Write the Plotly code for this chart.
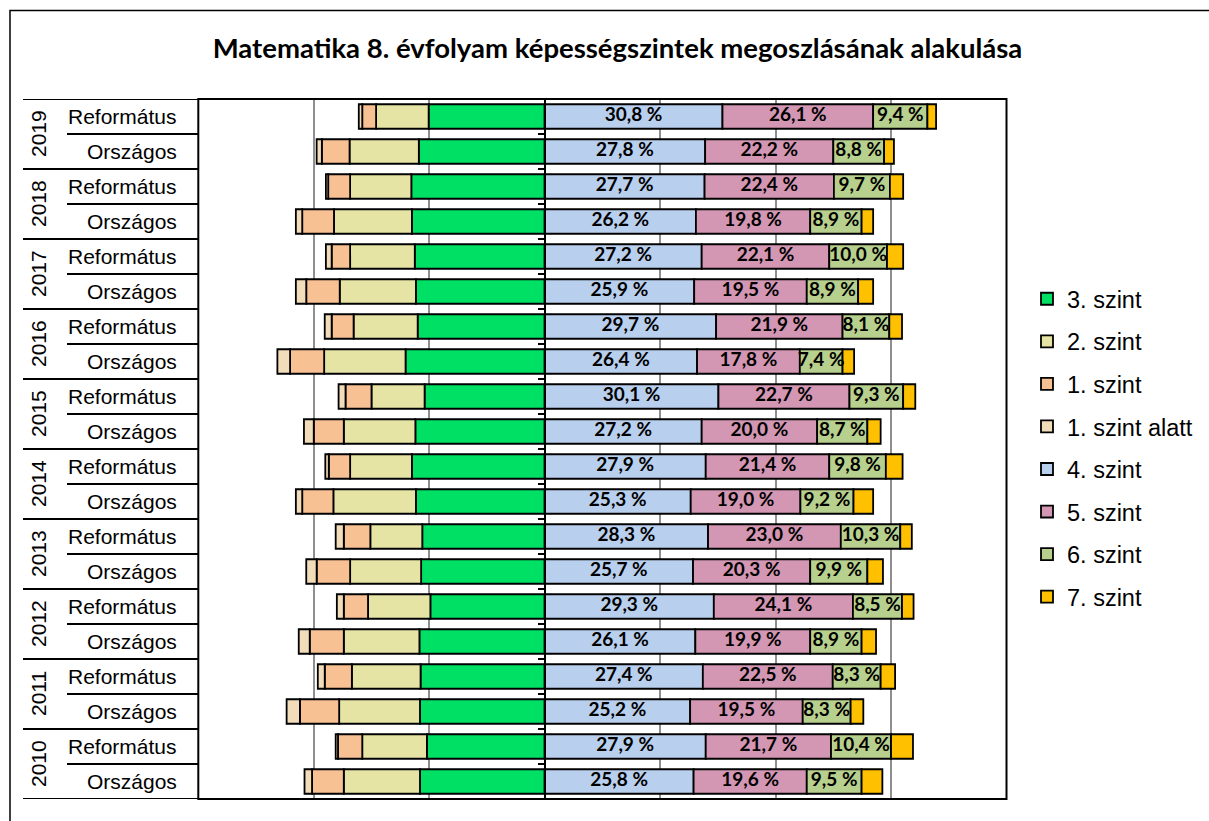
"""Matematika 8. évfolyam képességszintek – diverging stacked bar chart."""
import numpy as np
import plotly.graph_objects as go

W, H = 1209, 821

YEARS = ["2019", "2018", "2017", "2016", "2015", "2014", "2013", "2012", "2011", "2010"]
GROUPS = ["Református", "Országos"]

# shares (%) per row, top to bottom: 2019 Ref, 2019 Orsz, 2018 Ref, ...
SZINT_3 = [20.1, 21.8, 23.1, 23.0, 22.5, 22.3, 22.0, 24.1, 20.8, 22.4,
           23.0, 22.3, 21.2, 21.4, 19.8, 21.7, 21.5, 21.6, 20.4, 21.6]
SZINT_2 = [9.1, 12.0, 10.6, 13.5, 11.2, 13.2, 11.1, 14.1, 9.2, 12.4,
           10.7, 14.3, 9.0, 12.3, 10.8, 13.1, 11.9, 14.0, 11.2, 13.2]
SZINT_1 = [2.4, 4.8, 3.8, 5.5, 3.2, 5.8, 3.8, 5.9, 4.5, 5.2,
           3.7, 5.4, 4.6, 5.8, 4.2, 5.9, 4.7, 6.8, 4.2, 5.5]
SZINT_1_ALATT = [0.6, 0.9, 0.4, 1.1, 1.0, 1.8, 1.2, 2.2, 1.2, 1.7,
                 0.6, 1.1, 1.4, 1.8, 1.2, 1.9, 1.2, 2.3, 0.4, 1.3]
SZINT_4 = [30.8, 27.8, 27.7, 26.2, 27.2, 25.9, 29.7, 26.4, 30.1, 27.2,
           27.9, 25.3, 28.3, 25.7, 29.3, 26.1, 27.4, 25.2, 27.9, 25.8]
SZINT_5 = [26.1, 22.2, 22.4, 19.8, 22.1, 19.5, 21.9, 17.8, 22.7, 20.0,
           21.4, 19.0, 23.0, 20.3, 24.1, 19.9, 22.5, 19.5, 21.7, 19.6]
SZINT_6 = [9.4, 8.8, 9.7, 8.9, 10.0, 8.9, 8.1, 7.4, 9.3, 8.7,
           9.8, 9.2, 10.3, 9.9, 8.5, 8.9, 8.3, 8.3, 10.4, 9.5]
SZINT_7 = [1.5, 1.7, 2.3, 2.0, 2.8, 2.6, 2.2, 2.0, 2.1, 2.3,
           2.9, 3.4, 2.0, 2.7, 2.0, 2.5, 2.5, 2.2, 3.8, 3.6]

LEFT_LEVELS = [
    ("3. szint", SZINT_3, "#00E064"),
    ("2. szint", SZINT_2, "#E6E4A4"),
    ("1. szint", SZINT_1, "#F8C193"),
    ("1. szint alatt", SZINT_1_ALATT, "#F2DDBB"),
]
RIGHT_LEVELS = [
    ("4. szint", SZINT_4, "#B9CFEE"),
    ("5. szint", SZINT_5, "#D396B3"),
    ("6. szint", SZINT_6, "#B8D08D"),
    ("7. szint", SZINT_7, "#FFC000"),
]

ARIAL = "Liberation Sans, Arial, sans-serif"
CALIBRI = "Lato, Carlito, Calibri, sans-serif"


def px(x):
    return x / W


def py(y):
    return 1 - y / H


def fmt(v):
    return f"{v:.1f} %".replace(".", ",")


rows = [f"{y} {g}" for y in YEARS for g in GROUPS]
x_dom = [px(198.3), px(1006.5)]
y_dom = [py(799), py(99)]
x_range = [-60, 80]

fig = go.Figure()

for side, levels in ((-1, LEFT_LEVELS), (1, RIGHT_LEVELS)):
    for name, vals, col in levels:
        fig.add_trace(go.Bar(
            y=rows,
            x=[side * v for v in vals],
            orientation="h",
            name=name,
            legendgroup=name,
            marker=dict(color=col, line=dict(color="black", width=1.8)),
            hoverinfo="skip",
        ))

# data labels for 4.-6. szint, centred in each segment
start = np.zeros(len(rows))
for name, vals, col in RIGHT_LEVELS[:3]:
    vals = np.array(vals)
    fig.add_trace(go.Scatter(
        x=start + vals / 2,
        y=rows,
        mode="text",
        text=[fmt(v) for v in vals],
        textfont=dict(family=CALIBRI, size=19, color="black", weight=700),
        showlegend=False,
        cliponaxis=False,
        hoverinfo="skip",
    ))
    start = start + vals

shapes = [
    # outer chart frame
    dict(type="rect", xref="paper", yref="paper", x0=px(10), x1=1.05,
         y0=-0.05, y1=py(10.5), line=dict(color="black", width=1.5)),
    # plot area border
    dict(type="rect", xref="x domain", yref="y domain", x0=0, x1=1,
         y0=0, y1=1, line=dict(color="black", width=2)),
]
for k in range(len(YEARS) + 1):
    shapes.append(dict(type="line", xref="paper", yref="y",
                       x0=px(23), x1=px(198.3), y0=2 * k - 0.5, y1=2 * k - 0.5,
                       line=dict(color="black", width=2)))
for k in range(len(YEARS)):
    shapes.append(dict(type="line", xref="paper", yref="y",
                       x0=px(67), x1=px(198.3), y0=2 * k + 0.5, y1=2 * k + 0.5,
                       line=dict(color="black", width=2)))

annotations = []
for r in rows:
    annotations.append(dict(
        x=px(179), y=r, xref="paper", yref="y", xanchor="right",
        text=r.split(" ", 1)[1], showarrow=False,
        font=dict(family=ARIAL, size=21, color="black"),
    ))
for k, yr in enumerate(YEARS):
    annotations.append(dict(
        x=px(38), y=2 * k + 0.5, xref="paper", yref="y",
        xanchor="center", yanchor="middle",
        text=yr, textangle=-90, showarrow=False,
        font=dict(family=ARIAL, size=21, color="black"),
    ))

fig.update_layout(
    width=W, height=H,
    margin=dict(l=0, r=0, t=0, b=0),
    paper_bgcolor="white",
    plot_bgcolor="white",
    barmode="relative",
    bargap=0.3,
    title=dict(
        text="Matematika 8. évfolyam képességszintek megoszlásának alakulása",
        x=px(617.5), xanchor="center", y=py(48), yanchor="middle",
        font=dict(family=CALIBRI, size=27.5, color="black", weight=700),
    ),
    xaxis=dict(
        domain=x_dom, range=x_range,
        tickvals=[-40, -20, 20, 40, 60],
        showticklabels=False, ticks="",
        showgrid=True, gridcolor="#8f8f8f", gridwidth=1.5,
        zeroline=False, showline=False,
    ),
    yaxis=dict(
        domain=y_dom,
        categoryorder="array", categoryarray=rows,
        range=[len(rows) - 0.5, -0.5],
        anchor="free",
        position=x_dom[0] + (0 - x_range[0]) / (x_range[1] - x_range[0]) * (x_dom[1] - x_dom[0]),
        showline=True, linecolor="black", linewidth=2,
        ticks="outside", tickson="boundaries", ticklen=6, tickwidth=2, tickcolor="black",
        showticklabels=False, showgrid=False, zeroline=False,
    ),
    legend=dict(
        x=px(1027), y=py(277), xanchor="left", yanchor="top",
        font=dict(family=ARIAL, size=23.5, color="black"),
        traceorder="grouped", tracegroupgap=9,
        bgcolor="rgba(0,0,0,0)",
    ),
    shapes=shapes,
    annotations=annotations,
)

fig.write_html("out.html", config={"displayModeBar": False},
               post_script="document.body.style.margin='0';")
